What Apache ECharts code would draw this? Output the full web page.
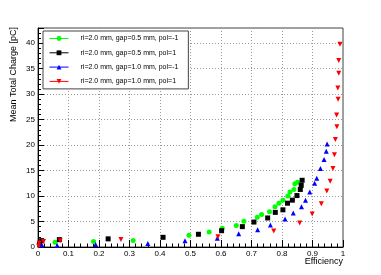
<!DOCTYPE html>
<html><head><meta charset="utf-8">
<script src="https://cdn.jsdelivr.net/npm/echarts@6/dist/echarts.min.js"></script>
<style>html,body{margin:0;padding:0;background:#fff;}#c{width:381px;height:275px;}</style>
</head><body><div id="c"></div>
<script>
var seriesNames = ["ri=2.0 mm, gap=0.5 mm, pol=-1","ri=2.0 mm, gap=0.5 mm, pol=1","ri=2.0 mm, gap=1.0 mm, pol=-1","ri=2.0 mm, gap=1.0 mm, pol=1"];
var greenX = [0.056,0.182,0.312,0.495,0.561,0.604,0.650,0.675,0.719,0.733,0.759,0.777,0.790,0.803,0.819,0.826,0.839,0.842,0.851];
var greenY = [0.93,1.1,1.3,2.3,2.95,3.7,4.2,5.05,5.85,6.4,6.9,7.9,8.6,9.2,10.0,10.8,11.3,12.4,12.7];
var blackX = [0.005,0.012,0.070,0.230,0.410,0.526,0.602,0.670,0.708,0.753,0.778,0.803,0.818,0.834,0.849,0.860,0.863,0.866];
var blackY = [0.6,1.25,1.45,1.6,1.9,2.5,3.2,4.0,4.9,5.7,6.8,7.3,8.6,9.2,10.1,11.3,12.1,13.1];
var blueX = [0.013,0.063,0.189,0.360,0.482,0.588,0.658,0.720,0.762,0.810,0.837,0.864,0.877,0.891,0.907,0.914,0.926,0.938,0.945,0.948];
var blueY = [0.4,0.3,0.5,0.7,1.25,1.7,2.6,3.4,4.3,5.5,6.7,7.9,9.2,10.8,12.5,13.5,15.4,17.2,18.8,20.2];
var redX = [0.002,0.004,0.018,0.073,0.272,0.590,0.773,0.858,0.899,0.929,0.947,0.958,0.967,0.972,0.975,0.980,0.979,0.984,0.983,0.986,0.986,0.990];
var redY = [0.2,0.8,1.1,1.25,1.45,2.0,3.15,4.7,6.5,8.5,11.0,12.9,15.4,18.1,21.1,23.6,25.9,29.0,31.2,34.1,36.6,39.8];
var xTickLabels = ["0","0.1","0.2","0.3","0.4","0.5","0.6","0.7","0.8","0.9","1"];
var xTitle = "Efficiency";
var yTitle = "Mean Total Charge [pC]";

function pairs(xs, ys){ return xs.map(function(x,i){ return [x, ys[i]]; }); }
var FONT = "Liberation Sans, Arial, sans-serif";
function mkSeries(name, xs, ys, color, symbol, size, rot){
  return {
    name: name, type: 'line', data: pairs(xs, ys),
    symbol: symbol, symbolSize: size, symbolRotate: rot || 0,
    showSymbol: true, showAllSymbol: true,
    itemStyle: {color: color, opacity: 1},
    lineStyle: {opacity: 0, color: color, width: 1},
    emphasis: {disabled: true}, animation: false, z: 5
  };
}
var chart = echarts.init(document.getElementById('c'), null, {renderer: 'canvas'});
chart.setOption({
  animation: false,
  backgroundColor: '#fff',
  grid: {left: 38, right: 38, top: 28, bottom: 28, show: true, borderColor: '#444', borderWidth: 1},
  legend: {
    show: true, orient: 'vertical', left: 43, top: 31,
    data: seriesNames,
    itemWidth: 19, itemHeight: 6, itemGap: 7.3,
    padding: [4, 10, 4, 6],
    borderColor: '#444', borderWidth: 1, backgroundColor: '#fff',
    textStyle: {fontFamily: FONT, fontSize: 7, color: '#000', padding: [0,0,0,7]},
    lineStyle: {opacity: 1, width: 1},
    itemStyle: {opacity: 1},
    selectedMode: false
  },
  xAxis: {
    type: 'value', min: 0, max: 1, interval: 0.1,
    axisLine: {show: true, onZero: false, lineStyle: {color: '#000', width: 1}},
    axisTick: {show: true, inside: true, length: 7, lineStyle: {color: '#000'}},
    minorTick: {show: true, splitNumber: 5, length: 3.5, lineStyle: {color: '#000'}},
    splitLine: {show: true, lineStyle: {color: '#999', type: [1, 2], width: 1}},
    axisLabel: {fontFamily: FONT, fontSize: 8, color: '#000', margin: 3,
      formatter: function(v){ var i = Math.round(v*10); return xTickLabels[i] !== undefined ? xTickLabels[i] : ''; }}
  },
  yAxis: {
    type: 'value', min: 0, max: 43, interval: 5,
    axisLine: {show: true, onZero: false, lineStyle: {color: '#000', width: 1}},
    axisTick: {show: true, inside: true, length: 6, lineStyle: {color: '#000'}},
    minorTick: {show: true, splitNumber: 5, length: 3, lineStyle: {color: '#000'}},
    splitLine: {show: true, lineStyle: {color: '#999', type: [1, 2], width: 1}},
    axisLabel: {fontFamily: FONT, fontSize: 8, color: '#000', margin: 3, showMaxLabel: false}
  },
  graphic: [
    {type: 'text', x: 343, y: 262, style: {text: xTitle, font: '9px ' + FONT, fill: '#000', textAlign: 'right', textVerticalAlign: 'middle'}},
    {type: 'text', x: 14, y: 27, rotation: Math.PI/2, style: {text: yTitle, font: '9px ' + FONT, fill: '#000', textAlign: 'right', textVerticalAlign: 'middle'}}
  ],
  series: [
    mkSeries(seriesNames[0], greenX, greenY, '#00ff00', 'circle', 5),
    mkSeries(seriesNames[1], blackX, blackY, '#000000', 'rect', 5),
    mkSeries(seriesNames[2], blueX, blueY, '#0000ff', 'triangle', 5),
    mkSeries(seriesNames[3], redX, redY, '#ff0000', 'triangle', 5, 180)
  ]
});
</script></body></html>
